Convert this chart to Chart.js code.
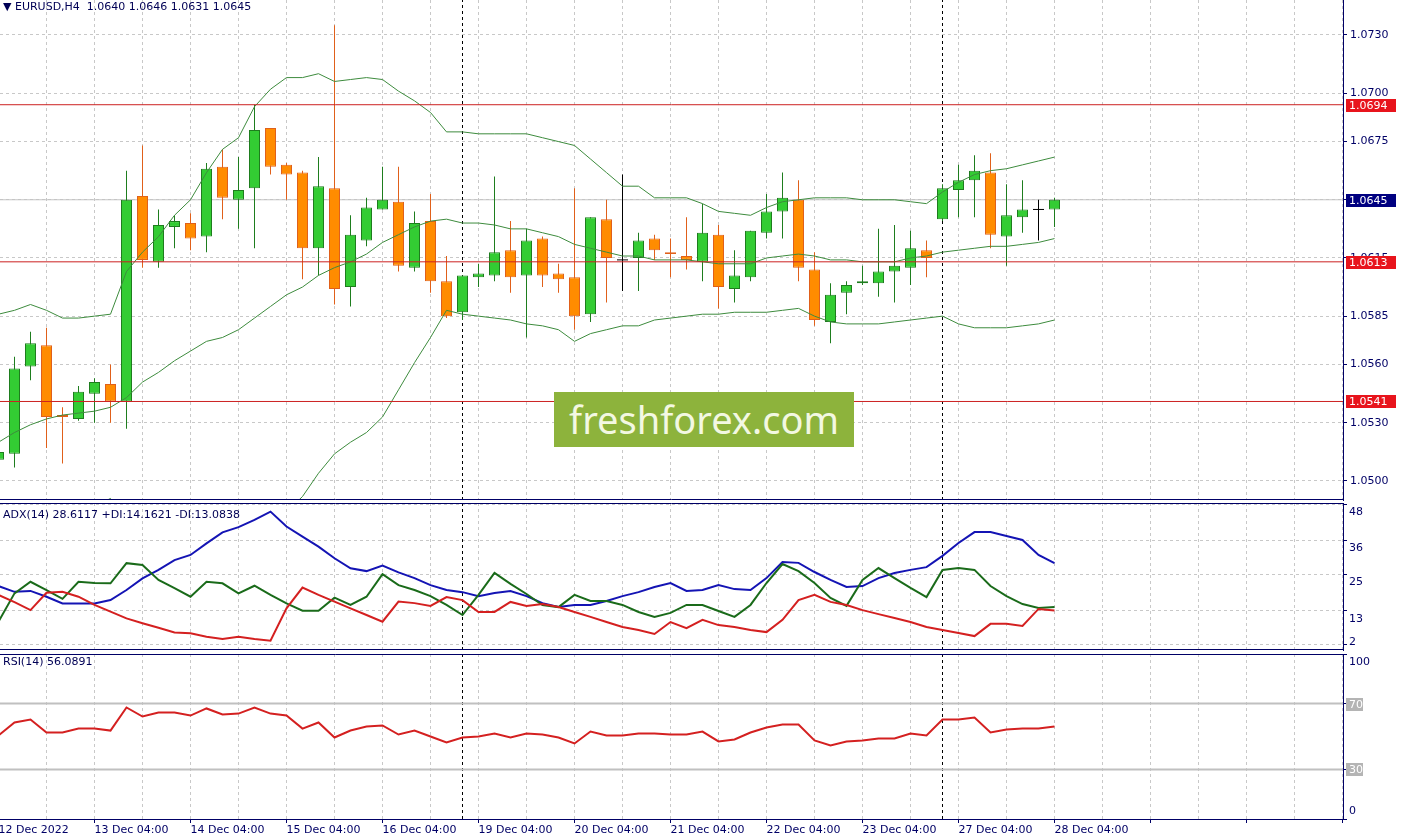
<!DOCTYPE html>
<html>
<head>
<meta charset="utf-8">
<script src="https://cdn.jsdelivr.net/npm/chart.js@4.4.1/dist/chart.umd.min.js"></script>
<style>
  body { margin: 0; background: #fff; }
  #wrap { position: relative; width: 1403px; height: 836px; overflow: hidden; font-family: "DejaVu Sans", sans-serif; }
  canvas { position: absolute; left: 0; }
  .lbl { position: absolute; left: 3px; font-size: 11px; line-height: 13px; color: #000055; white-space: pre; }
  #wm { position: absolute; left: 554px; top: 392px; width: 300px; height: 55px; background: #8db33c;
        color: #f3f8e2; font: 38px "Noto Sans", sans-serif; text-align: center; line-height: 54px; }
</style>
</head>
<body>
<div id="wrap">
  <canvas id="cMain" width="1403" height="502" style="top:0"></canvas>
  <canvas id="cAdx" width="1403" height="150" style="top:502px"></canvas>
  <canvas id="cRsi" width="1403" height="184" style="top:652px"></canvas>
  <div class="lbl" style="top:0">▼ EURUSD,H4  1.0640 1.0646 1.0631 1.0645</div>
  <div class="lbl" style="top:508px">ADX(14) 28.6117 +DI:14.1621 -DI:13.0838</div>
  <div class="lbl" style="top:655px">RSI(14) 56.0891</div>
  <div id="wm">freshforex.com</div>
</div>
<script>
// EURUSD H4 candles, 12 Dec 2022 00:00 .. 28 Dec 2022 04:00
const opens = [1.0511,1.0514,1.0559,1.0570,1.0534,1.0532,1.0545,1.0550,1.0541,1.0647,
  1.0613,1.0631,1.0633,1.0626,1.0662,1.0645,1.0651,1.0682,1.0663,1.0659,
  1.0620,1.0651,1.0600,1.0624,1.0640,1.0644,1.0610,1.0634,1.0603,1.0587,
  1.0605,1.0606,1.0619,1.0606,1.0625,1.0607,1.0605,1.0586,1.0635,1.0614,
  1.0615,1.0625,1.0618,1.0616,1.0613,1.0627,1.0599,1.0605,1.0628,1.0639,
  1.0645,1.0609,1.0582,1.0597,1.0602,1.0602,1.0608,1.0610,1.0619,1.0635,
  1.0650,1.0655,1.0659,1.0626,1.0636,1.0640,1.0640];
const highs = [1.0517,1.0564,1.0577,1.0579,1.0538,1.0549,1.0553,1.0560,1.0660,1.0673,
  1.0640,1.0637,1.0638,1.0664,1.0671,1.0667,1.0694,1.0682,1.0664,1.0660,
  1.0667,1.0735,1.0637,1.0646,1.0662,1.0662,1.0639,1.0648,1.0616,1.0606,
  1.0612,1.0657,1.0634,1.0630,1.0626,1.0612,1.0651,1.0636,1.0645,1.0658,
  1.0628,1.0627,1.0625,1.0636,1.0643,1.0632,1.0619,1.0629,1.0648,1.0659,
  1.0655,1.0618,1.0602,1.0603,1.0611,1.0630,1.0632,1.0629,1.0624,1.0653,
  1.0663,1.0668,1.0669,1.0653,1.0655,1.0645,1.0646];
const lows = [1.0509,1.0507,1.0552,1.0517,1.0509,1.0531,1.0530,1.0530,1.0527,1.0610,
  1.0610,1.0620,1.0619,1.0618,1.0635,1.0630,1.0620,1.0658,1.0645,1.0604,
  1.0606,1.0591,1.0590,1.0621,1.0640,1.0608,1.0608,1.0597,1.0584,1.0583,
  1.0600,1.0603,1.0597,1.0574,1.0600,1.0597,1.0578,1.0582,1.0592,1.0598,
  1.0598,1.0614,1.0605,1.0609,1.0603,1.0589,1.0592,1.0603,1.0625,1.0625,
  1.0603,1.0580,1.0571,1.0586,1.0601,1.0595,1.0592,1.0601,1.0605,1.0634,
  1.0636,1.0636,1.0620,1.0611,1.0628,1.0624,1.0631];
const closes = [1.0515,1.0558,1.0571,1.0533,1.0533,1.0546,1.0551,1.0541,1.0645,1.0614,
  1.0632,1.0634,1.0625,1.0661,1.0646,1.0650,1.0681,1.0662,1.0658,1.0620,
  1.0652,1.0599,1.0627,1.0641,1.0645,1.0611,1.0633,1.0603,1.0585,1.0606,
  1.0607,1.0618,1.0605,1.0624,1.0606,1.0604,1.0585,1.0636,1.0615,1.0614,
  1.0624,1.0619,1.0617,1.0614,1.0628,1.0600,1.0606,1.0629,1.0639,1.0646,
  1.0610,1.0583,1.0596,1.0601,1.0603,1.0608,1.0611,1.0620,1.0615,1.0651,
  1.0655,1.0660,1.0627,1.0637,1.0640,1.0640,1.0645];

// Bollinger bands
const bbUpper = [1.0586,1.0588,1.0591,1.0588,1.0584,1.0584,1.0585,1.0586,1.0608,1.0618,
  1.0626,1.0637,1.0645,1.0659,1.0671,1.0677,1.0693,1.0702,1.0708,1.0708,
  1.0710,1.0706,1.0707,1.0708,1.0707,1.0701,1.0696,1.0690,1.0680,1.0680,
  1.0679,1.0679,1.0679,1.0679,1.0677,1.0675,1.0673,1.0666,1.0659,1.0652,
  1.0652,1.0646,1.0646,1.0646,1.0643,1.0639,1.0638,1.0637,1.0641,1.0644,
  1.0645,1.0646,1.0646,1.0646,1.0645,1.0645,1.0645,1.0644,1.0643,1.0649,
  1.0654,1.0658,1.0660,1.0661,1.0663,1.0665,1.0667];
const bbMiddle = [1.0520,1.0525,1.0529,1.0532,1.0534,1.0535,1.0536,1.0538,1.0543,1.0551,
  1.0556,1.0562,1.0567,1.0572,1.0574,1.0578,1.0584,1.0590,1.0596,1.0600,
  1.0606,1.0610,1.0613,1.0617,1.0623,1.0627,1.0631,1.0634,1.0635,1.0633,
  1.0633,1.0632,1.0630,1.0630,1.0628,1.0626,1.0622,1.0620,1.0618,1.0616,
  1.0616,1.0614,1.0614,1.0614,1.0613,1.0612,1.0612,1.0612,1.0615,1.0616,
  1.0617,1.0616,1.0614,1.0614,1.0613,1.0613,1.0613,1.0615,1.0616,1.0618,
  1.0619,1.0620,1.0621,1.0621,1.0622,1.0623,1.0625];
const bbLower = [1.0454,1.0462,1.0467,1.0477,1.0484,1.0486,1.0487,1.0491,1.0479,1.0483,
  1.0486,1.0488,1.0488,1.0484,1.0478,1.0478,1.0475,1.0478,1.0484,1.0492,
  1.0504,1.0514,1.0520,1.0525,1.0533,1.0547,1.0561,1.0574,1.0588,1.0586,
  1.0585,1.0584,1.0583,1.0581,1.0580,1.0578,1.0572,1.0576,1.0578,1.0580,
  1.0580,1.0583,1.0584,1.0585,1.0586,1.0586,1.0587,1.0587,1.0587,1.0588,
  1.0589,1.0585,1.0582,1.0581,1.0581,1.0581,1.0582,1.0583,1.0584,1.0585,
  1.0581,1.0579,1.0579,1.0579,1.0580,1.0581,1.0583];

// ADX(14)
const adx = [21.1,19.2,19.5,17.6,15.4,15.4,15.4,16.5,19.8,23.6,
  26.4,29.6,31.3,35.1,38.7,40.4,42.8,45.5,40.6,37.3,
  34.0,30.2,26.9,26.0,27.8,25.6,23.7,21.4,19.8,19.1,
  17.8,18.8,19.5,17.8,15.5,14.2,14.9,14.9,16.2,17.8,
  19.1,20.8,22.1,19.5,19.8,21.4,20.1,19.8,23.7,29.0,
  28.7,25.7,23.1,20.8,21.1,23.7,25.4,26.4,27.3,31.0,
  35.2,38.8,38.8,37.5,36.2,31.3,28.6];
const plusDi = [9.4,18.7,22.5,19.8,16.9,22.5,22.1,22.0,28.6,28.0,
  23.1,20.4,17.6,22.5,22.0,18.7,21.2,18.2,15.4,13.0,
  13.0,17.3,14.9,17.6,25.0,21.4,19.8,17.8,14.9,11.6,
  18.2,25.4,21.8,18.5,14.9,14.2,18.2,16.2,16.2,14.9,
  12.6,11.0,12.3,14.9,14.9,12.9,11.0,14.9,22.1,28.3,
  26.0,22.1,17.2,14.6,23.1,27.0,23.7,20.5,17.5,26.4,
  27.0,26.4,21.1,17.8,15.2,13.9,14.2];
const minusDi = [18.2,15.8,13.2,18.9,19.2,17.6,14.9,12.7,10.5,8.9,
  7.4,5.9,5.6,4.5,3.7,4.5,3.7,3.2,13.8,20.6,
  18.2,16.0,13.8,11.6,9.4,16.0,15.5,14.6,17.5,16.5,
  12.6,12.6,15.9,14.6,15.2,14.2,12.6,11.0,9.3,7.7,
  6.7,5.4,9.3,7.3,10.0,8.3,7.7,6.7,6.0,10.0,
  16.5,18.2,15.9,14.9,13.2,11.9,10.6,9.3,7.7,6.7,
  5.7,4.7,8.7,8.7,8.0,13.6,13.1];

// RSI(14)
const rsi = [50.6,58.5,60.3,52.4,52.4,54.8,54.8,53.6,67.6,62.1,
  64.5,64.5,62.7,67.0,63.3,63.9,67.6,63.9,62.7,54.8,
  58.5,49.4,53.6,56.1,56.7,51.2,53.6,50.0,46.4,49.4,
  50.0,51.8,49.4,51.8,51.2,49.4,45.8,53.0,50.6,50.6,
  51.8,51.8,51.2,51.2,53.0,47.0,48.2,52.4,55.5,57.3,
  57.3,47.6,44.5,47.0,47.6,48.8,48.8,51.8,50.6,60.3,
  60.3,61.5,52.4,54.2,54.8,54.8,56.1];

const levels = [1.0694, 1.0613, 1.0541];
const lastPrice = 1.0645;
const priceTicks = [1.0500, 1.0530, 1.0560, 1.0585, 1.0615, 1.0645, 1.0675, 1.0700, 1.0730];
const adxTicks = [2, 13, 25, 36, 48];
const rsiTicks = [0, 30, 70, 100];
const rsiLevels = [30, 70];
const dayLabels = ['12 Dec 2022', '13 Dec 04:00', '14 Dec 04:00', '15 Dec 04:00', '16 Dec 04:00',
  '19 Dec 04:00', '20 Dec 04:00', '21 Dec 04:00', '22 Dec 04:00', '23 Dec 04:00',
  '27 Dec 04:00', '28 Dec 04:00'];
const labelStep = 6;       // one label per day (6 bars of H4)
const separators = [29, 59]; // new-week dotted lines

// view ranges
const xMin = 0.09375, xMax = 84.03125;
const pMin = 1.04902, pMax = 1.07480;
const aMin = 0.13, aMax = 48.33;

const navy = '#000066';
const gridColor = '#c8c8c8';
const upFill = '#33cc33', upLine = '#1e7d1e';
const dnFill = '#ff8c00', dnLine = '#e0601a';

Chart.defaults.font.family = '"DejaVu Sans", sans-serif';
Chart.defaults.font.size = 11;
Chart.defaults.animation = false;

const gridIdx = [];
for (let v = 0; v <= 84; v += 3) gridIdx.push(v);

function noPad(s) {
  s.paddingTop = 0; s.paddingBottom = 0; s.paddingLeft = 0; s.paddingRight = 0;
}

function xScale(showLabels) {
  return {
    type: 'linear', min: xMin, max: xMax, bounds: 'data', offset: false,
    afterBuildTicks: s => { s.ticks = gridIdx.map(v => ({ value: v })); },
    afterFit: s => { s.height = showLabels ? 17 : 0; noPad(s); },
    grid: {
      offset: false, color: gridColor, drawTicks: showLabels, tickLength: 4,
      tickColor: c => (c.tick && c.tick.value % labelStep === 0) ? navy : 'rgba(0,0,0,0)'
    },
    border: { display: false, dash: [3, 3] },
    ticks: {
      display: showLabels, autoSkip: false, maxRotation: 0, minRotation: 0,
      align: 'start', padding: 1, labelOffset: 0, color: navy,
      callback: v => v % labelStep === 0 ? (dayLabels[v / labelStep] || '') : ''
    }
  };
}

function yScale(min, max, ticks, opts) {
  return Object.assign({
    position: 'right', min: min, max: max, bounds: 'data',
    afterBuildTicks: s => { s.ticks = ticks.map(v => ({ value: v })); },
    afterFit: s => { s.width = 60; noPad(s); },
    grid: { color: gridColor, tickLength: 4, tickColor: navy },
    border: { color: navy, dash: [3, 3] },
    ticks: { display: false }
  }, opts);
}

function frame(top, bottom) {
  return {
    id: 'frame',
    afterDraw(chart) {
      const { ctx, chartArea: a } = chart;
      ctx.save();
      ctx.strokeStyle = navy;
      ctx.lineWidth = 1;
      ctx.beginPath();
      if (top) { ctx.moveTo(0, Math.round(a.top) + 0.5); ctx.lineTo(a.right, Math.round(a.top) + 0.5); }
      if (bottom) { ctx.moveTo(0, Math.round(a.bottom) - 0.5); ctx.lineTo(a.right, Math.round(a.bottom) - 0.5); }
      ctx.stroke();
      ctx.restore();
    }
  };
}

function drawTag(ctx, x, y, w, bg, text) {
  ctx.fillStyle = bg;
  ctx.fillRect(x, y - 6, w, 13);
  ctx.fillStyle = '#ffffff';
  ctx.textBaseline = 'middle';
  ctx.textAlign = 'left';
  ctx.fillText(text, x + 3, y + 1);
}

// labels of the right axis: tags on the price scale, plain texts for sub windows
function sideLabels(plain, tags) {
  return {
    id: 'sideLabels',
    afterDraw(chart) {
      const { ctx, chartArea: a } = chart;
      const s = chart.scales.y;
      ctx.save();
      ctx.font = '11px "DejaVu Sans", sans-serif';
      plain.forEach(v => {
        const y = Math.min(s.getPixelForValue(v) + 8, a.bottom - 8);
        ctx.fillStyle = navy;
        ctx.textBaseline = 'middle';
        ctx.fillText(String(v), a.right + 6, y);
      });
      tags.forEach(t => drawTag(ctx, a.right + 3, Math.round(s.getPixelForValue(t.value)), t.w, t.bg, t.text));
      ctx.restore();
    }
  };
}

function flatLine(v, color, width, order) {
  return { type: 'line', data: [{ x: xMin, y: v }, { x: xMax, y: v }], borderColor: color,
           borderWidth: width, pointRadius: 0, order: order };
}
function sepLines(min, max) {
  return separators.map(s => ({ type: 'line', data: [{ x: s, y: min }, { x: s, y: max }],
    borderColor: '#000000', borderWidth: 1, borderDash: [3, 3], pointRadius: 0, order: 30 }));
}
function series(arr, color, width, order) {
  return { type: 'line', data: arr.map((v, i) => ({ x: i, y: v })), borderColor: color,
           borderWidth: width, pointRadius: 0, tension: 0, order: order };
}

const dir = closes.map((c, i) => c > opens[i] ? 1 : (c < opens[i] ? -1 : 0));
const bodyFill = dir.map(d => d > 0 ? upFill : (d < 0 ? dnFill : 'rgba(0,0,0,0)'));
const bodyLine = dir.map(d => d > 0 ? upLine : (d < 0 ? dnLine : 'rgba(0,0,0,0)'));
const wickCol = dir.map(d => d > 0 ? upLine : (d < 0 ? dnLine : '#000000'));

function baseOpts(pad) {
  return {
    responsive: false,
    events: [],
    layout: { autoPadding: false, padding: pad },
    plugins: { legend: { display: false }, tooltip: { enabled: false } }
  };
}

// ---- price window
new Chart(document.getElementById('cMain'), {
  type: 'line',
  data: {
    datasets: [
      flatLine(lastPrice, '#c4c4c4', 1, 31),
      ...sepLines(pMin, pMax),
      { type: 'bar', data: opens.map((o, i) => ({ x: i, y: [lows[i], highs[i]] })),
        backgroundColor: wickCol, barThickness: 1, grouped: false, inflateAmount: 0, order: 12 },
      { type: 'bar', data: opens.map((o, i) => ({ x: i, y: [o, closes[i]] })),
        backgroundColor: bodyFill, borderColor: bodyLine, borderWidth: 1, borderSkipped: false,
        barThickness: 11, grouped: false, inflateAmount: 0, order: 11 },
      { type: 'line', data: opens.map((o, i) => ({ x: i, y: closes[i] })).filter((p, i) => dir[i] === 0),
        showLine: false, pointStyle: 'line', pointRadius: 5.5, borderColor: '#000000', borderWidth: 1, order: 10 },
      series(bbUpper, '#3d8b3d', 1, 5),
      series(bbMiddle, '#3d8b3d', 1, 5),
      series(bbLower, '#3d8b3d', 1, 5),
      ...levels.map(v => flatLine(v, '#cc2020', 1, 3))
    ]
  },
  options: Object.assign(baseOpts({ top: 0, left: 0, right: 0, bottom: 2 }), {
    scales: {
      x: xScale(false),
      y: yScale(pMin, pMax, priceTicks, {
        ticks: { display: true, color: navy, padding: 3, callback: v => v.toFixed(4) }
      })
    }
  }),
  plugins: [frame(false, true), sideLabels([],
    levels.map(v => ({ value: v, w: 50, bg: '#e8141c', text: v.toFixed(4) }))
      .concat([{ value: lastPrice, w: 50, bg: '#000080', text: lastPrice.toFixed(4) }]))]
});

// ---- ADX window
new Chart(document.getElementById('cAdx'), {
  type: 'line',
  data: {
    datasets: [
      ...sepLines(aMin, aMax),
      series(adx, '#1414b4', 2, 3),
      series(plusDi, '#1a6b1a', 2, 2),
      series(minusDi, '#d42020', 2, 1)
    ]
  },
  options: Object.assign(baseOpts({ top: 1, left: 0, right: 0, bottom: 2 }), {
    scales: { x: xScale(false), y: yScale(aMin, aMax, adxTicks, {}) }
  }),
  plugins: [frame(true, true), sideLabels(adxTicks, [])]
});

// ---- RSI window
new Chart(document.getElementById('cRsi'), {
  type: 'line',
  data: {
    datasets: [
      ...sepLines(0, 100),
      ...rsiLevels.map(v => flatLine(v, '#c0c0c0', 2, 5)),
      series(rsi, '#d42020', 2, 1)
    ]
  },
  options: Object.assign(baseOpts({ top: 2, left: 0, right: 0, bottom: 0 }), {
    scales: {
      x: Object.assign(xScale(true), { border: { display: true, color: navy, dash: [3, 3] } }),
      y: yScale(0, 100, rsiTicks, { grid: { drawOnChartArea: false, tickLength: 4, tickColor: navy } })
    }
  }),
  plugins: [frame(true, false), sideLabels([0, 100],
    rsiLevels.map(v => ({ value: v, w: 17, bg: '#b4b4b4', text: String(v) })))]
});
</script>
</body>
</html>
